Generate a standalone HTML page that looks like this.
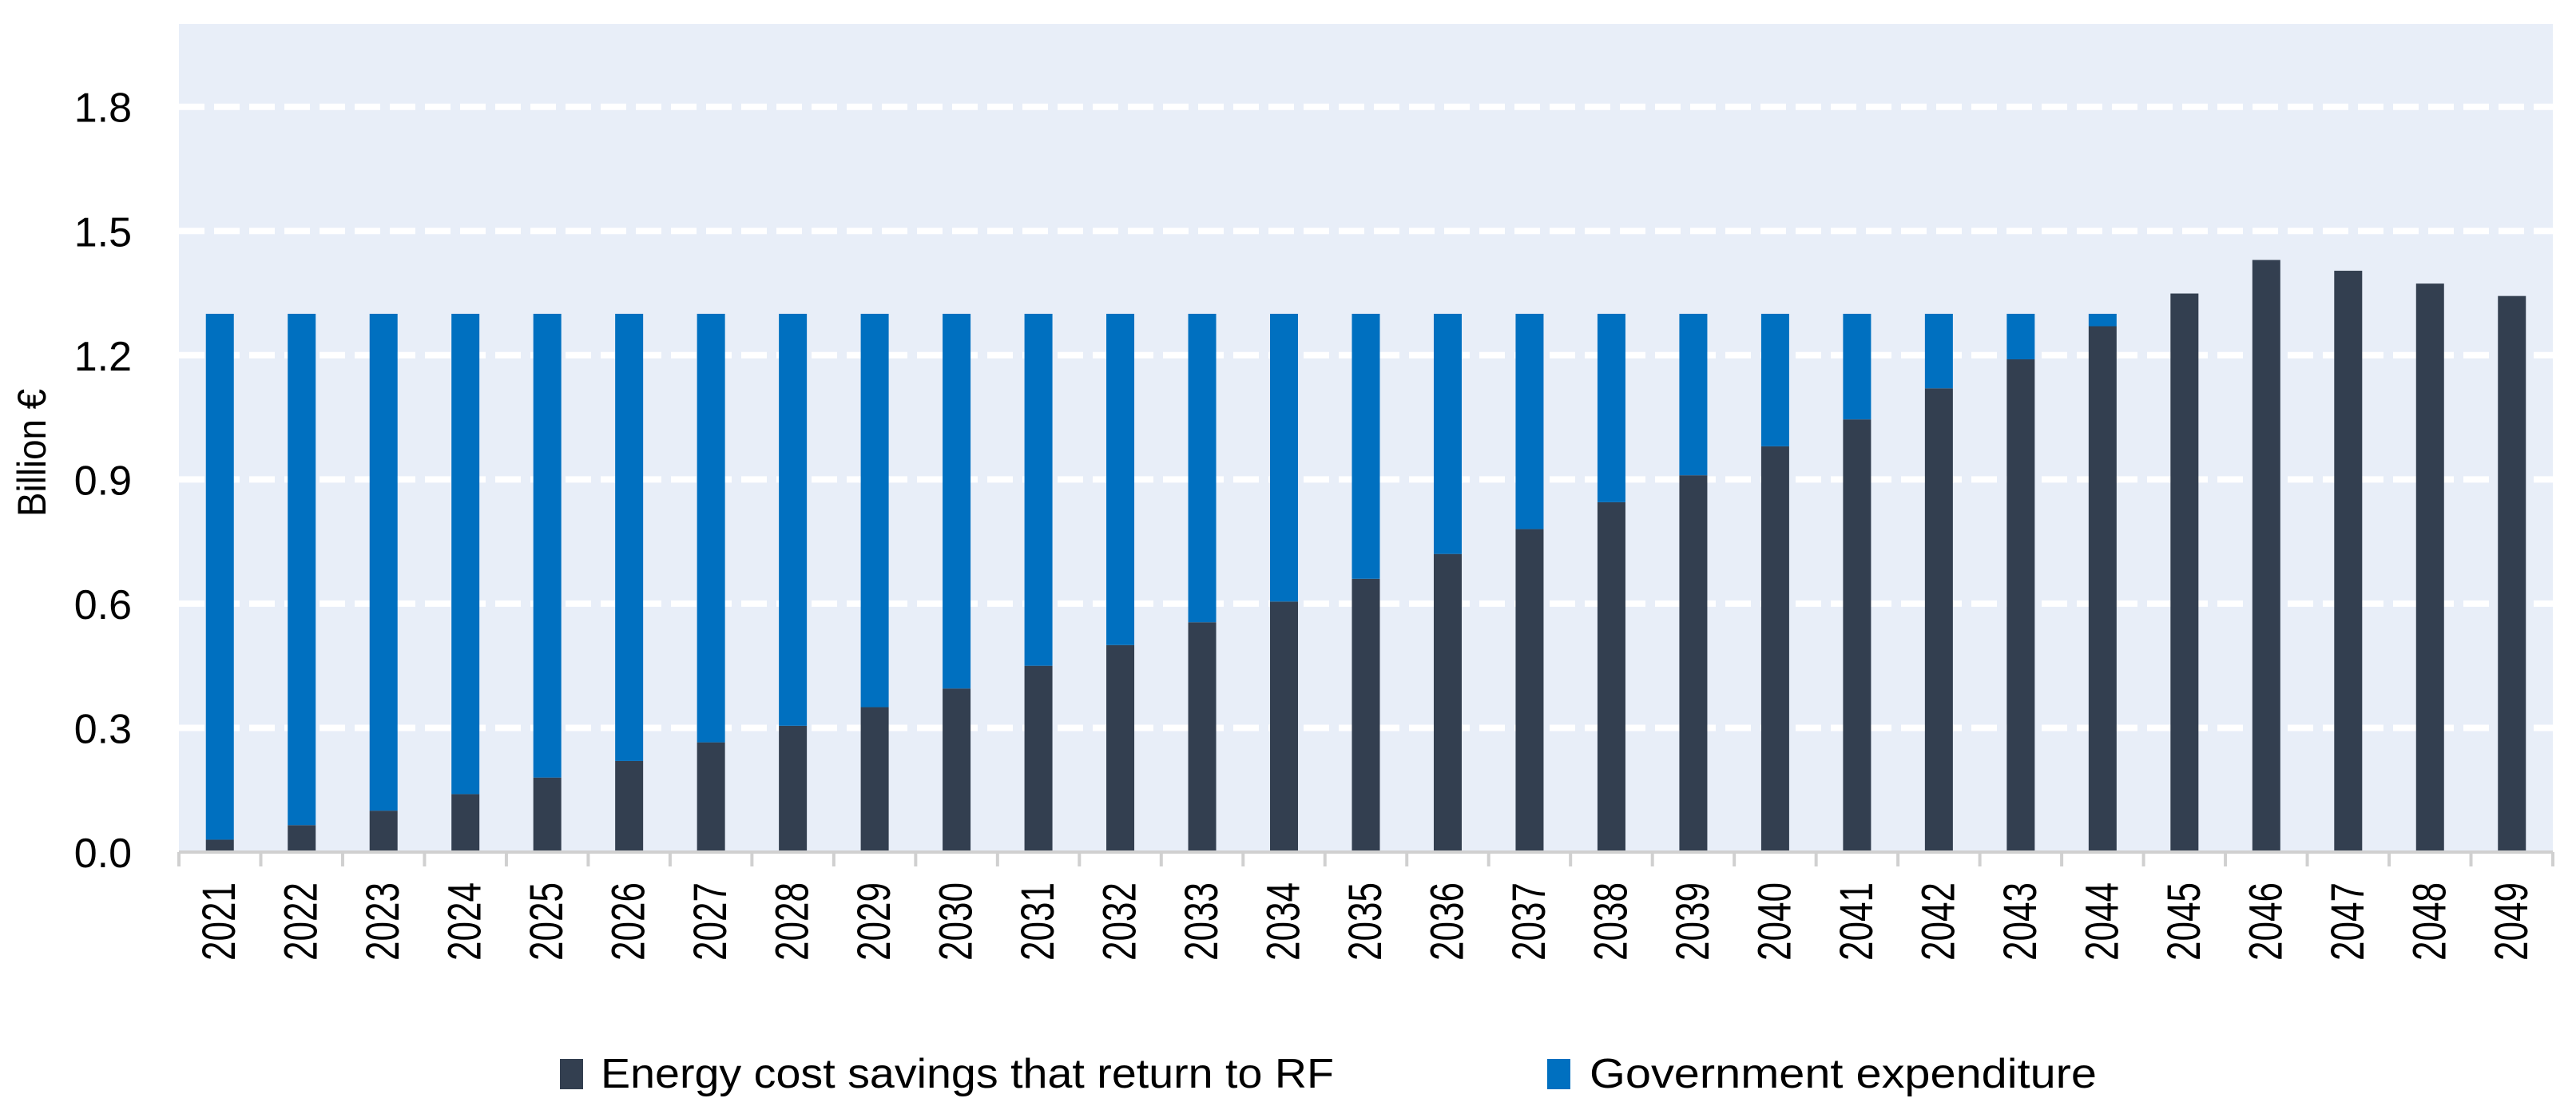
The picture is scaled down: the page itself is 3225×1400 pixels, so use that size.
<!DOCTYPE html>
<html><head><meta charset="utf-8"><style>
html,body{margin:0;padding:0;background:#fff;}
svg{display:block;font-family:"Liberation Sans",sans-serif;}
</style></head><body>
<svg id="chart" width="3225" height="1400" viewBox="0 0 3225 1400" xmlns="http://www.w3.org/2000/svg">
<rect x="224" y="30" width="2972" height="1037" fill="#e8eef8"/>
<g id="grid"></g>
<g id="bars"></g>
<g id="axes"></g>
<text transform="translate(57,567) rotate(-90)" text-anchor="middle" font-size="50" textLength="160" lengthAdjust="spacingAndGlyphs" fill="#000">Billion €</text>
<g>
<rect x="701" y="1326" width="29" height="38" fill="#333f50"/>
<text x="752" y="1362" font-size="52" textLength="918" lengthAdjust="spacingAndGlyphs" fill="#000">Energy cost savings that return to RF</text>
<rect x="1937" y="1326" width="29" height="38" fill="#0070c0"/>
<text x="1990" y="1362" font-size="52" textLength="635" lengthAdjust="spacingAndGlyphs" fill="#000">Government expenditure</text>
</g>
</svg>
<script>
const years = ["2021","2022","2023","2024","2025","2026","2027","2028","2029","2030","2031","2032","2033","2034","2035","2036","2037","2038","2039","2040","2041","2042","2043","2044","2045","2046","2047","2048","2049"];
const energySavings = [0.03,0.065,0.10,0.14,0.18,0.22,0.265,0.305,0.35,0.395,0.45,0.50,0.555,0.605,0.66,0.72,0.78,0.845,0.91,0.98,1.045,1.12,1.19,1.27,1.349,1.43,1.404,1.373,1.343];
const governmentExpenditure = [1.27,1.235,1.20,1.16,1.12,1.08,1.035,0.995,0.95,0.905,0.85,0.80,0.745,0.695,0.64,0.58,0.52,0.455,0.39,0.32,0.255,0.18,0.11,0.03,0,0,0,0,0];
const yTicks = [0.0,0.3,0.6,0.9,1.2,1.5,1.8];
const yTickLabels = ["0.0","0.3","0.6","0.9","1.2","1.5","1.8"];

const NS="http://www.w3.org/2000/svg";
const X0=224, X1=3196, Y0=1067, YTOP=30, YMAX=2.0;
const band=(X1-X0)/years.length, barW=35;
function y(v){return Y0-(v/YMAX)*(Y0-YTOP);}
function xc(i){return X0+band*(i+0.5);}
function mk(tag,attrs,parent){const e=document.createElementNS(NS,tag);for(const k in attrs)e.setAttribute(k,attrs[k]);parent.appendChild(e);return e;}

const grid=document.getElementById('grid');
yTicks.forEach((t,i)=>{
  if(t>0){
    const l=mk('line',{x1:X0,x2:X1,y1:y(t),y2:y(t),stroke:'#ffffff','stroke-width':8,'stroke-dasharray':'32 12'},grid);
    
    
  }
});
const bars=document.getElementById('bars');
years.forEach((yr,i)=>{
  const e=energySavings[i], g=governmentExpenditure[i];
  const r1=mk('rect',{x:xc(i)-barW/2,y:y(e),width:barW,height:Y0-y(e),fill:'#333f50'},bars);
  
  
  if(g>0){
    const r2=mk('rect',{x:xc(i)-barW/2,y:y(e+g),width:barW,height:y(e)-y(e+g),fill:'#0070c0'},bars);
    
    
  }
});
const axes=document.getElementById('axes');
const ax=mk('line',{x1:X0,x2:X1,y1:Y0,y2:Y0,stroke:'#d0d0d0','stroke-width':4},axes);


for(let i=0;i<=years.length;i++){
  const tk=mk('line',{x1:X0+band*i,x2:X0+band*i,y1:Y0,y2:Y0+18,stroke:'#d0d0d0','stroke-width':4},axes);
  
  
}
years.forEach((yr,i)=>{
  const t=mk('text',{transform:`translate(${xc(i)+19},1203) rotate(-90)`,'font-size':58,textLength:98,lengthAdjust:'spacingAndGlyphs',fill:'#000'},axes);
  t.textContent=yr;
  
  
});
yTicks.forEach((v,i)=>{
  const t=mk('text',{x:165,y:y(v)+19,'text-anchor':'end','font-size':52,fill:'#000'},axes);
  t.textContent=yTickLabels[i];
  
  
});
</script>
</body></html>
